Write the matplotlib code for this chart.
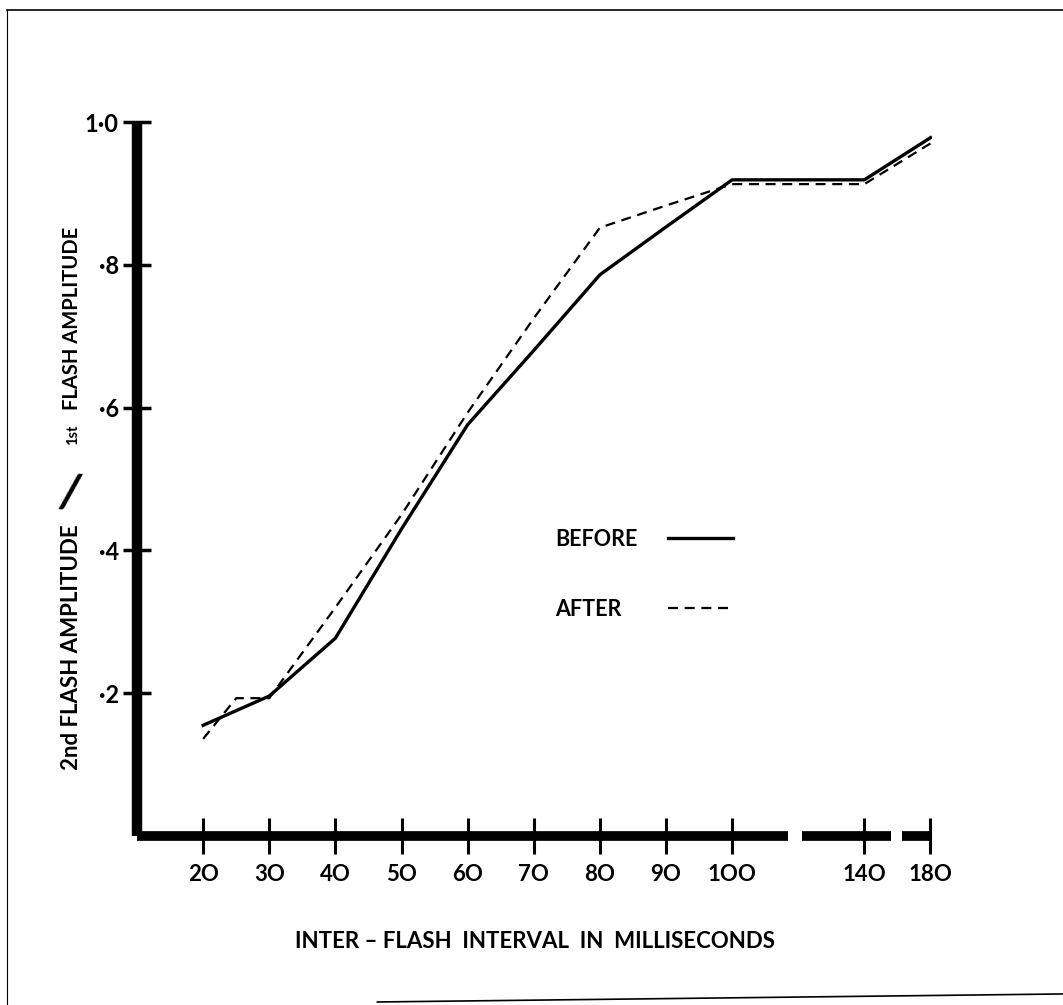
import numpy as np
import matplotlib
matplotlib.use("Agg")
import matplotlib.pyplot as plt
from matplotlib.lines import Line2D

# data
before_ms = [20, 30, 40, 50, 60, 70, 80, 90, 100, 140, 180]
before_amp = [0.155, 0.196, 0.277, 0.43, 0.576, 0.68, 0.786, 0.853, 0.919, 0.919, 0.978]

after_ms = [20, 25, 30, 40, 50, 60, 70, 80, 90, 100, 140, 180]
after_amp = [0.136, 0.193, 0.193, 0.32, 0.45, 0.593, 0.725, 0.852, 0.883, 0.913, 0.913, 0.97]

xticks = [20, 30, 40, 50, 60, 70, 80, 90, 100, 140, 180]
yticks = [0.2, 0.4, 0.6, 0.8, 1.0]
ytick_labels = ["·2", "·4", "·6", "·8", "1·0"]

# broken time axis: 10..100 ms linear, then 140 and 180 squeezed in
brk_ms = [10, 100, 140, 180, 200]
brk_pos = [0, 9, 11, 12, 12.5]

def fwd(x):
    return np.interp(x, brk_ms, brk_pos)

def inv(p):
    return np.interp(p, brk_pos, brk_ms)

plt.rcParams['font.family'] = ['Lato', 'DejaVu Sans']
plt.rcParams['font.weight'] = 'bold'

fig = plt.figure(figsize=(10.63, 10.05), dpi=100)
ax = fig.add_axes([0.1289, 0.1682, 0.748, 0.7104])
ax.set_xscale('function', functions=(fwd, inv))
ax.set_xlim(10, 181)
ax.set_ylim(0, 1.0)

dash = (4.5, 3)
ax.plot(before_ms, before_amp, color='black', lw=2.4)
ax.plot(after_ms, after_amp, color='black', lw=1.6, dashes=dash)

# spines
for s in ['top', 'right', 'bottom']:
    ax.spines[s].set_visible(False)
ax.spines['left'].set_linewidth(7.5)
ax.spines['left'].set_capstyle('butt')

# thick bottom axis in three pieces (axis break after 100)
for a, b in [(10, 117), (121, 156), (163, 180)]:
    ax.plot([a, b], [0, 0], color='black', lw=7, solid_capstyle='butt', clip_on=False)

ax.set_xticks(xticks)
ax.set_xticklabels([str(t).replace('0', 'O') for t in xticks])
ax.set_yticks(yticks)
ax.set_yticklabels(ytick_labels)
ax.tick_params(axis='x', direction='inout', length=26, width=2.2, pad=7, labelsize=16)
ax.tick_params(axis='y', direction='inout', length=20, width=2.5, pad=3, labelsize=17)

ax.set_xlabel("INTER – FLASH  INTERVAL  IN  MILLISECONDS", fontsize=16,
              fontweight='bold', labelpad=33)

# y label in pieces: lower part, slash, small "1st", upper part
fig.text(0.067, 1 - 770 / 1005, "2nd FLASH AMPLITUDE", rotation=90, fontsize=16,
         ha='center', va='bottom')
fig.text(0.066, 1 - 495 / 1005, "/", rotation=-8, fontsize=34,
         ha='center', va='center')
fig.text(0.069, 1 - 445 / 1005, "1st", rotation=90, fontsize=10.5,
         ha='center', va='bottom')
fig.text(0.068, 1 - 410 / 1005, "FLASH AMPLITUDE", rotation=90, fontsize=14.5,
         ha='center', va='bottom')

# legend drawn by hand: label on the left, line sample on the right
ax.text(0.526, 0.4146, "BEFORE", transform=ax.transAxes, fontsize=15.5,
        ha='left', va='center')
ax.text(0.526, 0.3165, "AFTER", transform=ax.transAxes, fontsize=15.5,
        ha='left', va='center')
ax.plot([0.668, 0.750], [0.417, 0.417], transform=ax.transAxes, color='black', lw=2.4)
ax.plot([0.668, 0.750], [0.319, 0.319], transform=ax.transAxes, color='black',
        lw=1.6, dashes=dash)

# scanned page border
fig.add_artist(Line2D([0.007, 1.0], [0.99, 0.99], color='black', lw=1.2))
fig.add_artist(Line2D([0.007, 0.007], [0.0, 0.99], color='black', lw=0.8))
fig.add_artist(Line2D([0.355, 1.0], [0.003, 0.011], color='black', lw=1.2))

fig.savefig("out.png", dpi=100, facecolor='white')
